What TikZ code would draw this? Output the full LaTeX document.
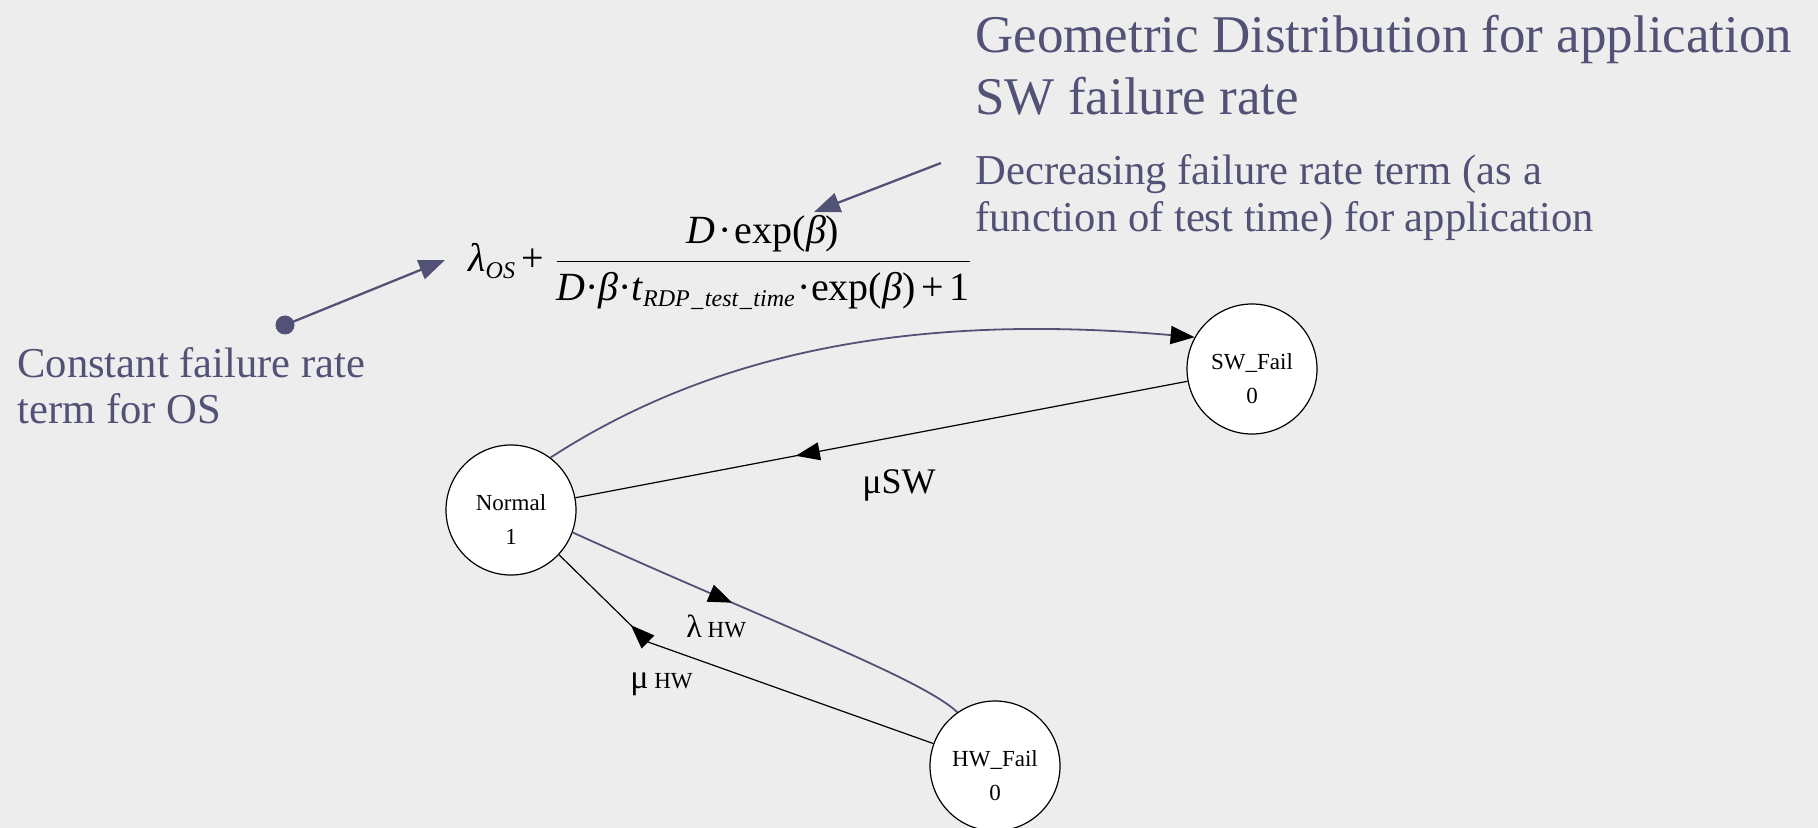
\documentclass[tikz,border=0pt]{standalone}
\usepackage{fontspec}
\setmainfont{Liberation Serif}
\usepackage{amsmath}
\usetikzlibrary{arrows.meta,decorations.markings,calc}
\definecolor{slate}{RGB}{82,82,118}
\definecolor{bgpaper}{RGB}{237,237,238}
\newcommand{\fdot}{\mbox{·}}
\newcommand{\fsub}[1]{\mbox{\fontsize{12}{12}\selectfont\itshape #1}}
\begin{document}
\begin{tikzpicture}[x=0.5pt,y=-0.5pt,
  statenode/.style={circle,draw=black,fill=white,line width=0.6pt,minimum size=65pt,inner sep=0pt,
    align=center,font=\fontsize{11.5}{17}\selectfont,text height=34pt,text depth=0pt},
  slatetext/.style={text=slate,inner sep=0pt,align=left},
  blueedge/.style={draw=slate,line width=0.9pt},
  blackedge/.style={draw=black,line width=0.6pt},
  headtip/.style={-{Triangle[length=12pt,width=9pt,color=black]}},
  calltip/.style={draw=slate,line width=1.15pt,-{Triangle[length=13pt,width=10pt]}},
  midarrow/.style={postaction={decorate},decoration={markings,mark=at position #1 with {\arrow{Triangle[length=12pt,width=9pt,color=black]}}}},
  lbl/.style={inner sep=0pt,anchor=base west}
]
\useasboundingbox (0,0) rectangle (1818,828);
\fill[bgpaper] (0,0) rectangle (1818,828);

% texts (base anchor = last line)
\node[slatetext,anchor=base west,font=\fontsize{26.5}{31}\selectfont] (title) at (975,115)
  {Geometric Distribution for application\\SW failure rate};
\node[slatetext,anchor=base west,font=\fontsize{21.3}{23.5}\selectfont] (dec) at (975,232)
  {Decreasing failure rate term (as a\\function of test time) for application};
\node[slatetext,anchor=base west,font=\fontsize{21.3}{23}\selectfont] (const) at (17,423)
  {Constant failure rate\\term for OS};

% formula
\node[inner sep=0pt,anchor=base west,font=\fontsize{20}{22}\selectfont] (formula) at (468,272)
  {\medmuskip=2.5mu plus 0mu minus 0mu
   $\displaystyle \mbox{\itshape λ}_{\fsub{OS}}\mathbin{\mbox{+}}\kern2pt
   \frac{\mbox{\itshape D}\kern1.5pt\fdot\kern1.5pt\mbox{exp(\itshape β\upshape)}}
        {\mbox{\itshape D}\fdot\mbox{\itshape β}\fdot\mbox{\itshape t}_{\fsub{RDP\kern0.8pt\_\kern0.8pt test\kern0.8pt\_\kern0.8pt time}}\kern1pt\fdot\mbox{exp(\itshape β\upshape)}\mathbin{\mbox{+}}\mbox{1}}$};

% callout arrows
\node[circle,fill=slate,minimum size=9.5pt,inner sep=0pt] (dot) at (285,325) {};
\coordinate (lamtip) at (445,260);
\draw[calltip] (dot.center) -- (lamtip);
\coordinate (dectail) at (941,163);
\coordinate (dectip) at (814,212);
\draw[calltip] (dectail) -- (dectip);

% states
\node[statenode] (normal) at (511,510) {Normal\\1};
\node[statenode] (sw) at (1252,369) {SW\_Fail\\0};
\node[statenode] (hw) at (995,766) {HW\_Fail\\0};

% transitions
\draw[blueedge,headtip] (normal.53) .. controls (730,341) and (942,315) .. (sw.151);
\draw[blackedge,midarrow=0.64] (sw) -- (normal);
\draw[blueedge,midarrow=0.41] (normal.-20) .. controls (770,622) and (921,678) .. (hw.125);
\coordinate (kink) at (648,642);
\draw[blackedge] (hw.160) -- (kink) -- (normal.-43);
\draw[blackedge,-{Triangle[length=12pt,width=9pt]}] (kink) -- ($(kink)!12pt!(normal.-43)$);

% labels
\node[lbl,font=\fontsize{18}{18}\selectfont] (musw) at (862,493) {μSW};
\node[lbl,font=\fontsize{11.5}{12}\selectfont] (lamhw) at (686,637) {{\fontsize{16}{16}\selectfont λ} HW};
\node[lbl,font=\fontsize{11.5}{12}\selectfont] (muhw) at (630,688) {{\fontsize{17}{17}\selectfont μ} HW};
\end{tikzpicture}
\end{document}
